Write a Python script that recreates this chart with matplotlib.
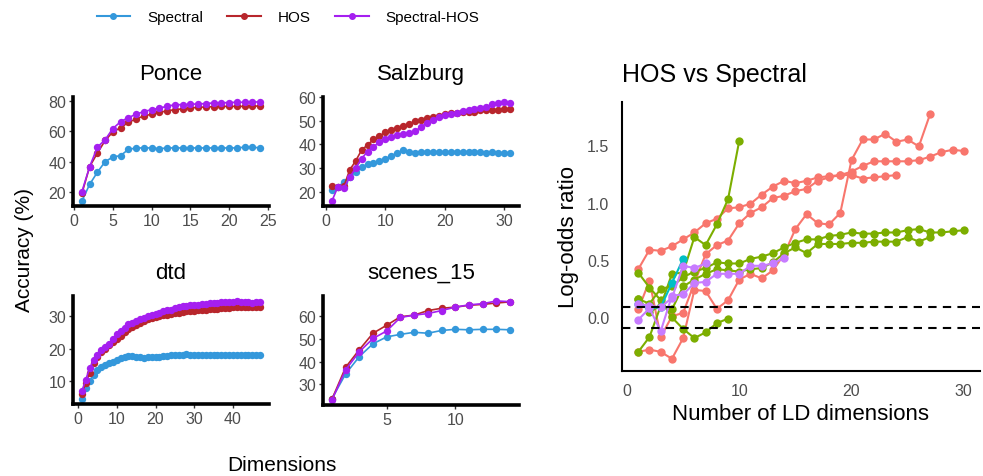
import matplotlib
matplotlib.use('Agg')
import matplotlib.pyplot as plt
from matplotlib.lines import Line2D

plt.rcParams['font.family'] = ['Liberation Sans', 'DejaVu Sans']

# ─── data: accuracy per dataset ─────────────────────────────
ponce_spectral = [14, 25, 33, 40, 43, 44, 48, 49, 49, 49, 48.5, 49, 49, 49,
                  49, 49, 49, 49, 49, 49, 49, 49.5, 49.5, 49]
ponce_hos = [19, 36.7, 45.6, 53.9, 59.6, 62.3, 65.9, 68.1, 70.1, 71.2, 72.4,
             73.5, 74.2, 74.8, 75.3, 75.8, 76.0, 76.2, 76.4, 76.4, 76.4, 76.4,
             76.6, 76.6]
ponce_spec_hos = [20.2, 36.7, 49.5, 54.4, 61.8, 66.3, 69.0, 71.2, 73.0, 74.2,
                  75.3, 76.4, 77.5, 77.5, 77.8, 78.0, 78.2, 78.7, 78.7, 78.9,
                  79.1, 79.1, 79.3, 79.3]

salz_spectral = [20.5, 22, 24, 26, 28.5, 30.5, 31.5, 32, 33, 34, 35, 36.5,
                 37.5, 37, 36.5, 36.8, 37, 36.8, 36.8, 36.8, 36.8, 37, 36.8,
                 36.8, 37, 36.8, 36.5, 36.8, 36.5, 36.2, 36.5]
salz_hos = [22.3, 22, 22.2, 29.2, 33.0, 37.6, 39.8, 42.1, 43.5, 45.2, 46.0,
            47.0, 47.8, 48.8, 49.8, 50.5, 51.0, 51.8, 52.2, 52.8, 53.3, 53.3,
            53.6, 53.6, 53.8, 54.4, 54.4, 54.6, 54.8, 55.1, 55.1]
salz_spec_hos = [16, 22, 21.5, 26, 30, 34, 37, 39, 41, 42.5, 43, 44, 44.5, 45,
                 45.5, 47.5, 49, 50.5, 51.5, 52.5, 53, 53.5, 54, 54.5, 55,
                 55.5, 56, 57, 57.5, 58, 57.5]

dtd_spectral = [4.5, 8, 10, 12, 13.5, 14.5, 15, 15.5, 16, 16.5, 17, 17.5,
                17.8, 17.8, 17.5, 17.3, 17.2, 17.5, 17.5, 17.3, 17.5, 17.8,
                17.8, 18, 18, 18.2, 18.2, 18.3, 18.2, 18.2, 18.2, 18.2, 18,
                18.2, 18.2, 18.2, 18, 18, 18, 18, 18, 18, 18, 18, 18.2, 18.2,
                18.2]
dtd_hos = [6.0, 9.5, 12.5, 15.5, 17.5, 19.0, 20.0, 21.0, 22.0, 23.0, 24.0,
           25.0, 26.0, 26.8, 27.3, 28.0, 28.5, 29.0, 29.5, 29.8, 30.0, 30.3,
           30.5, 30.8, 31.0, 31.0, 31.2, 31.5, 31.5, 31.7, 31.8, 32.0, 32.0,
           32.2, 32.3, 32.3, 32.5, 32.5, 32.5, 32.7, 32.7, 32.8, 32.7, 32.8,
           32.8, 32.7, 32.8]
dtd_spec_hos = [7.0, 10.5, 14.0, 16.5, 18.0, 19.5, 20.5, 21.5, 23.0, 24.5,
                25.5, 26.5, 27.5, 28.0, 28.5, 29.0, 29.5, 30.0, 30.5, 30.8,
                31.0, 31.5, 31.8, 32.0, 32.5, 32.8, 33.0, 33.2, 33.3, 33.5,
                33.5, 33.7, 33.8, 34.0, 34.0, 34.2, 34.5, 34.3, 34.5, 34.5,
                34.7, 34.5, 34.5, 34.3, 34.2, 34.3, 34.5]

scenes_spectral = [23.8, 34.6, 42.2, 47.8, 50.8, 51.9, 52.8, 52.4, 53.6, 54.1,
                   53.9, 54.1, 54.1, 53.9]
scenes_hos = [23.5, 37.5, 45.2, 52.4, 55.9, 59.6, 60.3, 62.3, 63.3, 63.8,
              64.6, 65.0, 65.6, 66.1]
scenes_spec_hos = [23.2, 36.4, 44.3, 50.1, 53.4, 59.3, 60.3, 61.0, 62.3, 63.8,
                   64.8, 65.3, 66.5, 66.2]

panel_titles = ['Ponce', 'Salzburg', 'dtd', 'scenes_15']
panel_yticks = [[20, 40, 60, 80], [20, 30, 40, 50, 60], [10, 20, 30],
                [30, 40, 50, 60]]
panel_xticks = [[0, 5, 10, 15, 20, 25], [0, 10, 20, 30], [0, 10, 20, 30, 40],
                [5, 10]]

method_names = ['Spectral', 'HOS', 'Spectral-HOS']

# ─── data: log-odds ratio (HOS vs Spectral) ─────────────────
pink_a = [0.42, 0.59, 0.58, 0.62, 0.68, 0.74, 0.82, 0.86, 0.95, 0.96, 0.99,
          1.07, 1.14, 1.19, 1.17, 1.19, 1.22, 1.23, 1.24, 1.27, 1.32, 1.36,
          1.36, 1.36, 1.36, 1.37, 1.40, 1.44, 1.46, 1.45]
pink_b = [0.07, 0.32, -0.17, 0.01, 0.04, 0.30, 0.55, 0.63, 0.67, 0.82, 0.91,
          0.96, 1.04, 1.06, 1.10, 1.12, 1.19, 1.22, 1.24, 1.24, 1.21, 1.22,
          1.23, 1.24]
pink_c = [-0.30, -0.28, -0.30, -0.36, -0.18, 0.24, 0.23, 0.075, 0.15, 0.33,
          0.38, 0.34, 0.41, 0.55, 0.77, 0.90, 0.82, 0.81, 0.91, 1.37, 1.55,
          1.55, 1.60, 1.53, 1.55, 1.49, 1.77]
green_a = [0.16, 0.12, 0.25, 0.27, 0.35, 0.40, 0.43, 0.48, 0.47, 0.47, 0.51,
           0.53, 0.56, 0.61, 0.65, 0.68, 0.68, 0.71, 0.72, 0.74, 0.73, 0.73,
           0.74, 0.74, 0.76, 0.77, 0.74, 0.74, 0.75, 0.76]
green_b = [-0.30, -0.17, 0.10, 0.07, 0.27, 0.33, 0.38, 0.42, 0.41, 0.40, 0.42,
           0.43, 0.48, 0.56, 0.61, 0.56, 0.64, 0.64, 0.64, 0.65, 0.65, 0.66,
           0.66, 0.66, 0.70, 0.66, 0.70]
green_c = [0.16, 0.05, 0.10, 0.38, 0.39, 0.70, 0.63, 0.81, 1.03, 1.54]
green_d = [0.39, 0.26, 0.15, 0.0, -0.10, -0.18, -0.13, -0.05, -0.01]
cyan_a = [0.12, 0.08, 0.09, 0.30, 0.51]
purple_a = [0.12, 0.10, 0.09, 0.17, 0.45, 0.43, 0.47]
purple_b = [-0.02, 0.08, -0.12, 0.19, 0.20, 0.30, 0.31, 0.38, 0.38, 0.38,
            0.45, 0.45, 0.47, 0.52]

threshold_hi = 0.087
threshold_lo = -0.096

# ─── styles ─────────────────────────────────────────────────
COLOR_SPEC = '#3498db'
COLOR_HOS = '#b8262c'
COLOR_SH = '#a51ff0'
COLOR_TICK = '#4d4d4d'

W, H = 983, 477


def px_box(x0, y0, x1, y1):
    """픽셀 좌표 -> figure 비율"""
    return [x0 / W, 1 - y1 / H, (x1 - x0) / W, (y1 - y0) / H]


def style_axis(ax, lw):
    ax.spines['top'].set_visible(False)
    ax.spines['right'].set_visible(False)
    ax.spines['left'].set_linewidth(lw)
    ax.spines['bottom'].set_linewidth(lw)
    ax.spines['left'].set_capstyle('projecting')
    ax.spines['bottom'].set_capstyle('projecting')
    ax.tick_params(labelsize=11.5, labelcolor=COLOR_TICK, length=3,
                   width=1, color='#333333', pad=2)


fig = plt.figure(figsize=(W / 100, H / 100), dpi=100)

# ─── left: 4 small panels ───────────────────────────────────
boxes = [px_box(73, 98, 269, 207), px_box(323, 98, 519, 207),
         px_box(73, 297, 269, 405), px_box(323, 297, 519, 406)]
panel_data = [
    (ponce_spectral, ponce_hos, ponce_spec_hos),
    (salz_spectral, salz_hos, salz_spec_hos),
    (dtd_spectral, dtd_hos, dtd_spec_hos),
    (scenes_spectral, scenes_hos, scenes_spec_hos),
]

for i, (spec, hos, sh) in enumerate(panel_data):
    ax = fig.add_axes(boxes[i])
    for vals, col in zip((spec, hos, sh), (COLOR_SPEC, COLOR_HOS, COLOR_SH)):
        xs = list(range(1, len(vals) + 1))
        ax.plot(xs, vals, color=col, lw=1.2, marker='o', markersize=5.3,
                markeredgewidth=0)
    ax.margins(0.05)
    ax.set_xticks(panel_xticks[i])
    ax.set_yticks(panel_yticks[i])
    style_axis(ax, 2.6)
    ax.set_title(panel_titles[i], fontsize=16, pad=13)

fig.text(25 / W, 1 - 250 / H, 'Accuracy (%)', rotation=90, fontsize=15,
         ha='center', va='center')
fig.text(282 / W, 1 - 466 / H, 'Dimensions', fontsize=15, ha='center',
         va='center')

handles = [Line2D([], [], color=c, lw=1.5, marker='o', markersize=4)
           for c in (COLOR_SPEC, COLOR_HOS, COLOR_SH)]
fig.legend(handles, method_names, loc='center', ncol=3, frameon=False,
           bbox_to_anchor=(288 / W, 1 - 18 / H), fontsize=11,
           handlelength=2.2, columnspacing=1.6, handletextpad=1.1)

# ─── right: log-odds ratio ──────────────────────────────────
ax = fig.add_axes(px_box(622, 103, 980, 372))
groups = [
    ('#F8766D', [pink_a, pink_b, pink_c]),
    ('#7CAE00', [green_a, green_b, green_c, green_d]),
    ('#00BFC4', [cyan_a]),
    ('#C77CFF', [purple_a, purple_b]),
]
for col, series in groups:
    for vals in series:
        xs = list(range(1, len(vals) + 1))
        ax.plot(xs, vals, color=col, lw=1.5, marker='o', markersize=6,
                markeredgewidth=0)
ax.margins(0.05)
ax.axhline(threshold_hi, color='black', lw=1.5, ls=(0, (4, 3)))
ax.axhline(threshold_lo, color='black', lw=1.5, ls=(0, (4, 3)))
ax.set_xticks([0, 10, 20, 30])
ax.set_yticks([0.0, 0.5, 1.0, 1.5])
ax.set_yticklabels(['0.0', '0.5', '1.0', '1.5'])
style_axis(ax, 1.5)
ax.tick_params(length=0, pad=9)
ax.set_title('HOS vs Spectral', loc='left', fontsize=18, pad=15)
ax.set_xlabel('Number of LD dimensions', fontsize=16, labelpad=3)
ax.set_ylabel('Log-odds ratio', fontsize=16, labelpad=6)

plt.savefig('out.png', dpi=100)
plt.close()
